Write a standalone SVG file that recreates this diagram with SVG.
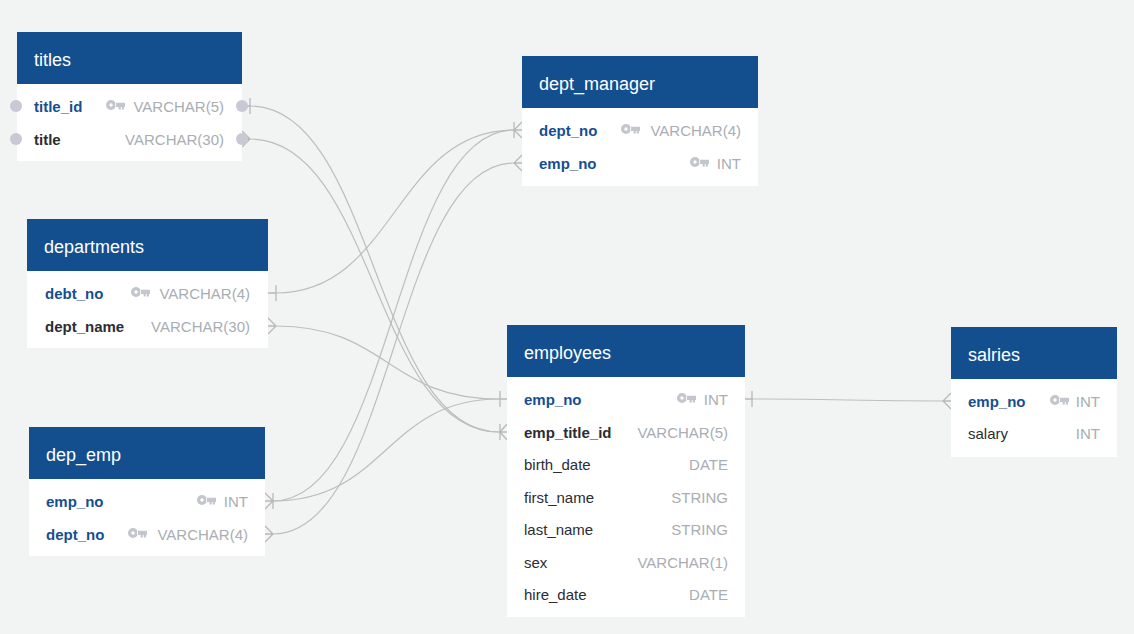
<svg xmlns="http://www.w3.org/2000/svg" xmlns:xlink="http://www.w3.org/1999/xlink" width="1134" height="634" viewBox="0 0 1134 634">
  <style>
    .hdr { fill: #134f8f; }
    .body { fill: #ffffff; }
    .tname { fill: #ffffff; font: 18px "Liberation Sans", Arial, sans-serif; }
    .pk { fill: #164f91; font: bold 15px "Liberation Sans", Arial, sans-serif; }
    .fk { fill: #2b2d33; font: bold 15px "Liberation Sans", Arial, sans-serif; }
    .fld { fill: #2b2d33; font: 15px "Liberation Sans", Arial, sans-serif; }
    .type { fill: #a9adb4; font: 15px "Liberation Sans", Arial, sans-serif; text-anchor: end; }
    .key { fill: #c3c6cc; fill-rule: evenodd; }
    .dot { fill: #c9c9d6; }
    .conn { fill: none; stroke: #bdbdbd; stroke-width: 1.2; }
    .mark { fill: none; stroke: #b8b8b8; stroke-width: 1.3; }
  </style>
  <defs>
    <!-- key glyph, origin at the left edge of the ring, vertically centred -->
    <path id="key" class="key" d="M0,0 a5,5 0 1,0 10,0 a5,5 0 1,0 -10,0 Z M3.3,0 a1.7,1.7 0 1,1 3.4,0 a1.7,1.7 0 1,1 -3.4,0 Z M9,-2.2 H19 V2 H18 V4.6 H15.8 V2 H14.8 V4.6 H12.6 V2 H9 Z"/>
  </defs>

  <rect width="1134" height="634" fill="#f2f4f3"/>

  <!-- relationship lines -->
  <g id="connectors">
    <path class="conn" d="M250,106 C374.5,106 374.5,432 499,432"/>
    <path class="conn" d="M250,139 C374.5,139 374.5,432 499,432"/>
    <path class="conn" d="M276,293 C395,293 395,130 514,130"/>
    <path class="conn" d="M276,326 C387.5,326 387.5,399 499,399"/>
    <path class="conn" d="M273,501 C393.5,501 393.5,130 514,130"/>
    <path class="conn" d="M273,501 C386,501 386,399 499,399"/>
    <path class="conn" d="M273,534 C393.5,534 393.5,163 514,163"/>
    <path class="conn" d="M753,399 C848,399 848,401 943,401"/>

    <!-- end marks -->
    <path class="mark" d="M242,106 H250 M250,98 V114"/>
    <path class="mark" d="M242,139 H250 M250,139 L242,131 M250,139 L242,147"/>
    <path class="mark" d="M268,293 H276 M276,285 V301"/>
    <path class="mark" d="M268,326 H276 M276,326 L268,318 M276,326 L268,334"/>
    <path class="mark" d="M265,501 H273 M273,493 V509 M273,501 L265,493 M273,501 L265,509"/>
    <path class="mark" d="M265,534 H273 M273,534 L265,526 M273,534 L265,542"/>
    <path class="mark" d="M514,130 H522 M514,122 V138 M514,130 L522,122 M514,130 L522,138"/>
    <path class="mark" d="M514,163 H522 M514,163 L522,155 M514,163 L522,171"/>
    <path class="mark" d="M499,399 H507 M500,391 V407"/>
    <path class="mark" d="M499,432 H507 M500,424 V440 M500,432 L507,424 M500,432 L507,440"/>
    <path class="mark" d="M745,399 H753 M752,391 V407"/>
    <path class="mark" d="M943,401 H951 M943,401 L951,393 M943,401 L951,409"/>
  </g>

  <g id="titles">
    <rect class="body" x="17" y="32" width="225" height="129"/>
    <rect class="hdr" x="17" y="32" width="225" height="52"/>
    <text class="tname" x="34" y="66">titles</text>
    <text class="pk" x="34" y="112">title_id</text>
    <use xlink:href="#key" x="106" y="105"/>
    <text class="type" x="224" y="112">VARCHAR(5)</text>
    <text class="fk" x="34" y="145">title</text>
    <text class="type" x="224" y="145">VARCHAR(30)</text>
    <circle class="dot" cx="16" cy="106" r="6"/>
    <circle class="dot" cx="16" cy="139" r="6"/>
    <circle class="dot" cx="242" cy="106" r="6"/>
    <circle class="dot" cx="242" cy="139" r="6"/>
  </g>

  <g id="departments">
    <rect class="body" x="27" y="219" width="241" height="129"/>
    <rect class="hdr" x="27" y="219" width="241" height="52"/>
    <text class="tname" x="44" y="253">departments</text>
    <text class="pk" x="45" y="299">debt_no</text>
    <use xlink:href="#key" x="131" y="292"/>
    <text class="type" x="250" y="299">VARCHAR(4)</text>
    <text class="fk" x="45" y="332">dept_name</text>
    <text class="type" x="250" y="332">VARCHAR(30)</text>
  </g>

  <g id="dep_emp">
    <rect class="body" x="29" y="427" width="236" height="129"/>
    <rect class="hdr" x="29" y="427" width="236" height="52"/>
    <text class="tname" x="46" y="461">dep_emp</text>
    <text class="pk" x="46" y="507">emp_no</text>
    <use xlink:href="#key" x="197" y="500"/>
    <text class="type" x="248" y="507">INT</text>
    <text class="pk" x="46" y="540">dept_no</text>
    <use xlink:href="#key" x="128" y="533"/>
    <text class="type" x="248" y="540">VARCHAR(4)</text>
  </g>

  <g id="dept_manager">
    <rect class="body" x="522" y="56" width="236" height="130"/>
    <rect class="hdr" x="522" y="56" width="236" height="52"/>
    <text class="tname" x="539" y="90">dept_manager</text>
    <text class="pk" x="539" y="136">dept_no</text>
    <use xlink:href="#key" x="621" y="129"/>
    <text class="type" x="741" y="136">VARCHAR(4)</text>
    <text class="pk" x="539" y="169">emp_no</text>
    <use xlink:href="#key" x="690" y="162"/>
    <text class="type" x="741" y="169">INT</text>
  </g>

  <g id="employees">
    <rect class="body" x="507" y="325" width="238" height="292"/>
    <rect class="hdr" x="507" y="325" width="238" height="52"/>
    <text class="tname" x="524" y="359">employees</text>
    <text class="pk" x="524" y="405">emp_no</text>
    <use xlink:href="#key" x="677" y="398"/>
    <text class="type" x="728" y="405">INT</text>
    <text class="fk" x="524" y="438">emp_title_id</text>
    <text class="type" x="728" y="438">VARCHAR(5)</text>
    <text class="fld" x="524" y="470">birth_date</text>
    <text class="type" x="728" y="470">DATE</text>
    <text class="fld" x="524" y="503">first_name</text>
    <text class="type" x="728" y="503">STRING</text>
    <text class="fld" x="524" y="535">last_name</text>
    <text class="type" x="728" y="535">STRING</text>
    <text class="fld" x="524" y="568">sex</text>
    <text class="type" x="728" y="568">VARCHAR(1)</text>
    <text class="fld" x="524" y="600">hire_date</text>
    <text class="type" x="728" y="600">DATE</text>
  </g>

  <g id="salries">
    <rect class="body" x="951" y="327" width="166" height="130"/>
    <rect class="hdr" x="951" y="327" width="166" height="52"/>
    <text class="tname" x="968" y="361">salries</text>
    <text class="pk" x="968" y="407">emp_no</text>
    <use xlink:href="#key" x="1050" y="400"/>
    <text class="type" x="1100" y="407">INT</text>
    <text class="fld" x="968" y="439">salary</text>
    <text class="type" x="1100" y="439">INT</text>
  </g>
</svg>
